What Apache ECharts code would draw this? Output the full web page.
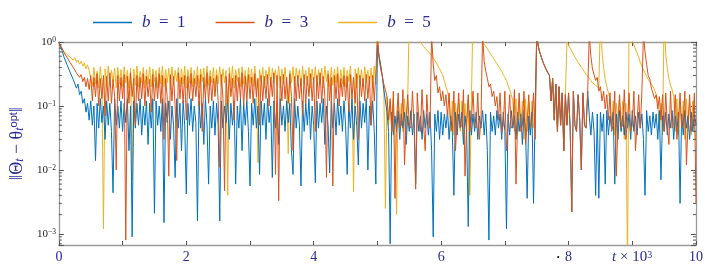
<!DOCTYPE html>
<html><head><meta charset="utf-8">
<script src="https://cdn.jsdelivr.net/npm/echarts@6/dist/echarts.min.js"></script>
<style>html,body{margin:0;padding:0;background:#fff}#c{width:706px;height:270px}</style>
</head><body><div id="c"></div>
<script>
// sample spacing along t (in units of 10^3)
const step = 0.025;
const seriesNames = ['b = 1', 'b = 3', 'b = 5'];
// b = 1 (blue), one row = 0.5 units of t
const b1 = [
1.0,0.82,0.74,0.6,0.58,0.45,0.46,0.34,0.36,0.26,0.27,0.19,0.22,0.15,0.17,0.11,0.13,0.08,0.11,0.06,
0.12,0.05,0.1,0.014,0.11,0.045,0.13,0.055,0.1,0.03,0.12,0.05,0.11,0.04,0.0044,0.13,0.05,0.1,0.045,0.12,
0.04,0.11,0.055,0.13,0.02,0.1,0.0009,0.12,0.045,0.11,0.05,0.13,0.035,0.1,0.05,0.12,0.025,0.11,0.045,0.13,
0.0021,0.12,0.05,0.1,0.04,0.13,0.0015,0.11,0.055,0.12,0.03,0.1,0.05,0.0076,0.13,0.045,0.11,0.02,0.12,0.05,
0.0042,0.11,0.05,0.13,0.04,0.1,0.055,0.0016,0.12,0.045,0.11,0.025,0.13,0.05,0.006,0.1,0.045,0.12,0.035,0.11,
0.05,0.0016,0.12,0.045,0.1,0.055,0.13,0.03,0.11,0.05,0.12,0.006,0.1,0.045,0.13,0.02,0.11,0.05,0.12,0.04,
0.0056,0.11,0.05,0.13,0.045,0.1,0.0085,0.12,0.05,0.11,0.03,0.13,0.055,0.1,0.0076,0.12,0.045,0.11,0.025,0.13,
0.05,0.1,0.04,0.12,0.055,0.11,0.02,0.0085,0.13,0.045,0.1,0.05,0.0056,0.12,0.04,0.11,0.05,0.13,0.03,0.1,
0.05,0.0063,0.12,0.045,0.11,0.055,0.13,0.025,0.1,0.05,0.009,0.12,0.045,0.11,0.035,0.13,0.05,0.1,0.04,0.12,
0.05,0.0085,0.11,0.045,0.13,0.03,0.1,0.05,0.012,0.12,0.045,0.11,0.055,0.13,0.01,0.1,0.05,0.12,0.04,0.006,
0.9,0.6,0.45,0.3,0.18,0.12,0.08,0.04,0.0007,0.08,0.035,0.07,0.04,0.085,0.03,0.075,0.045,0.08,0.025,0.07,
0.04,0.085,0.035,0.075,0.006,0.08,0.04,0.07,0.03,0.085,0.045,0.075,0.035,0.08,0.02,0.0009,0.075,0.04,0.085,0.03,
0.08,0.035,0.075,0.045,0.085,0.03,0.07,0.04,0.004,0.08,0.035,0.075,0.045,0.08,0.025,0.07,0.04,0.0013,0.085,0.035,
0.075,0.04,0.08,0.03,0.07,0.045,0.085,0.035,0.075,0.02,0.0008,0.08,0.04,0.07,0.035,0.085,0.045,0.075,0.03,0.08,
0.04,0.0012,0.075,0.035,0.085,0.045,0.07,0.03,0.08,0.04,0.075,0.025,0.085,0.04,0.0036,0.07,0.035,0.08,0.003,0.075,
1.3,0.85,0.68,0.57,0.48,0.42,0.37,0.33,0.3,0.12,0.27,0.06,0.22,0.04,0.2,0.05,0.16,0.02,0.15,0.05,
0.16,0.045,0.0022,0.17,0.05,0.04,0.15,0.06,0.01,0.16,0.05,0.045,0.17,0.07,0.035,0.08,0.04,0.004,0.075,0.0036,
0.08,0.04,0.075,0.006,0.085,0.035,0.07,0.045,0.08,0.006,0.075,0.03,0.085,0.04,0.07,0.035,0.08,0.045,0.075,0.03,
0.085,0.04,0.07,0.035,0.08,0.045,0.075,0.03,0.004,0.085,0.04,0.07,0.035,0.08,0.045,0.075,0.03,0.085,0.007,0.07,
0.04,0.08,0.035,0.075,0.045,0.085,0.03,0.07,0.04,0.08,0.003,0.075,0.035,0.085,0.045,0.07,0.03,0.08,0.04,0.075,
0.05];
// b = 3 (orange)
const b3 = [
1.0,0.88,0.8,0.7,0.66,0.58,0.56,0.48,0.47,0.4,0.4,0.33,0.35,0.28,0.31,0.24,0.28,0.2,0.27,0.18,
0.3,0.12,0.28,0.14,0.32,0.1,0.27,0.13,0.3,0.07,0.29,0.12,0.33,0.11,0.26,0.14,0.01,0.3,0.12,0.28,
0.13,0.31,0.0008,0.29,0.11,0.33,0.14,0.27,0.05,0.3,0.12,0.28,0.13,0.32,0.1,0.29,0.14,0.26,0.08,0.31,
0.12,0.28,0.13,0.32,0.11,0.3,0.03,0.27,0.14,0.008,0.31,0.12,0.29,0.1,0.014,0.33,0.13,0.28,0.11,0.3,
0.06,0.29,0.13,0.32,0.12,0.27,0.14,0.3,0.1,0.31,0.04,0.28,0.13,0.33,0.11,0.29,0.12,0.27,0.14,0.3,
0.12,0.011,0.31,0.13,0.0047,0.29,0.11,0.32,0.14,0.27,0.06,0.3,0.12,0.28,0.13,0.33,0.1,0.29,0.12,0.31,
0.13,0.28,0.11,0.32,0.14,0.27,0.05,0.3,0.12,0.29,0.13,0.31,0.1,0.28,0.14,0.33,0.0085,0.3,0.0033,0.29,
0.12,0.31,0.13,0.28,0.11,0.32,0.14,0.02,0.29,0.12,0.3,0.13,0.27,0.07,0.31,0.11,0.29,0.14,0.32,0.12,
0.28,0.04,0.3,0.13,0.33,0.11,0.29,0.14,0.0076,0.31,0.12,0.28,0.0056,0.3,0.13,0.32,0.1,0.27,0.14,0.3,
0.12,0.29,0.08,0.31,0.13,0.28,0.11,0.32,0.03,0.3,0.14,0.27,0.12,0.31,0.13,0.29,0.05,0.3,0.12,0.32,
1.3,0.55,0.38,0.3,0.22,0.18,0.14,0.06,0.13,0.04,0.17,0.0036,0.06,0.16,0.045,0.05,0.18,0.012,0.06,0.15,
0.05,0.045,0.17,0.05,0.005,0.16,0.06,0.04,0.18,0.05,0.02,0.15,0.055,0.045,1.3,0.45,0.25,0.3,0.16,0.2,
0.12,0.17,0.1,0.15,0.07,0.16,0.05,0.04,0.17,0.02,0.06,0.16,0.045,0.05,0.18,0.008,0.055,0.15,0.04,0.06,
0.17,0.05,0.045,0.16,0.03,0.06,1.3,0.5,0.35,0.27,0.2,0.22,0.14,0.17,0.1,0.14,0.06,0.16,0.04,0.05,
0.17,0.02,0.055,0.15,0.045,0.05,0.18,0.006,0.06,0.16,0.04,0.05,0.17,0.025,0.055,0.15,0.045,0.06,0.16,0.03,
1.3,0.85,0.68,0.57,0.48,0.42,0.37,0.33,0.3,0.12,0.27,0.06,0.22,0.04,0.2,0.05,0.16,0.02,0.15,0.05,
0.16,0.045,0.0022,0.17,0.05,0.04,0.15,0.06,0.01,0.16,0.05,0.045,0.17,1.3,0.6,0.38,0.4,0.25,0.28,0.17,
0.2,0.12,0.17,0.09,0.15,0.06,0.16,0.04,0.05,0.17,0.008,0.055,0.15,0.045,0.05,0.18,0.03,0.06,0.16,0.04,
0.05,0.17,0.02,0.055,0.15,0.045,0.16,1.3,0.7,0.45,0.3,0.26,0.19,0.2,0.13,0.15,0.09,0.14,0.06,0.15,
0.04,0.16,0.05,0.025,0.17,0.045,0.055,0.15,0.03,0.06,0.16,0.045,0.05,0.17,0.012,0.055,0.15,0.04,0.06,0.16,
0.003];
// b = 5 (yellow)
const b5 = [
0.95,0.82,0.86,0.72,0.76,0.64,0.68,0.58,0.62,0.52,0.57,0.48,0.52,0.45,0.5,0.42,0.47,0.38,0.44,0.36,
0.36,0.2,0.4,0.22,0.35,0.19,0.41,0.23,0.0012,0.38,0.2,0.42,0.21,0.36,0.24,0.39,0.19,0.4,0.22,0.37,
0.2,0.41,0.23,0.36,0.19,0.39,0.007,0.38,0.21,0.42,0.2,0.35,0.23,0.4,0.19,0.37,0.22,0.41,0.2,0.38,
0.24,0.36,0.19,0.4,0.22,0.42,0.2,0.37,0.23,0.39,0.18,0.41,0.21,0.36,0.24,0.4,0.2,0.38,0.22,0.42,
0.19,0.37,0.23,0.4,0.2,0.36,0.22,0.41,0.19,0.38,0.24,0.39,0.2,0.42,0.21,0.36,0.23,0.4,0.19,0.37,
0.22,0.41,0.2,0.38,0.23,0.36,0.004,0.4,0.21,0.42,0.19,0.37,0.24,0.39,0.2,0.41,0.22,0.36,0.19,0.4,
0.23,0.38,0.2,0.42,0.21,0.013,0.37,0.24,0.4,0.19,0.36,0.22,0.41,0.2,0.39,0.23,0.37,0.21,0.42,0.19,
0.38,0.22,0.4,0.2,0.018,0.36,0.23,0.41,0.19,0.39,0.24,0.37,0.2,0.42,0.22,0.36,0.21,0.4,0.19,0.38,
0.23,0.41,0.2,0.37,0.22,0.39,0.19,0.42,0.24,0.36,0.2,0.4,0.21,0.38,0.23,0.41,0.19,0.37,0.22,0.4,
0.2,0.36,0.24,0.42,0.21,0.0046,0.38,0.19,0.4,0.22,0.37,0.2,0.41,0.23,0.36,0.21,0.39,0.19,0.42,0.22,
1.1,0.6,0.42,0.3,0.2,0.0025,0.14,0.05,0.12,0.04,0.13,0.035,0.002,0.12,0.045,0.11,0.04,0.13,0.035,0.12,
3.0,2.5,2.0,1.7,1.45,1.25,1.1,1.0,0.92,0.85,0.79,0.74,0.7,0.67,0.62,0.56,0.52,0.47,0.42,0.38,
0.34,0.3,0.25,0.2,0.17,0.13,0.04,0.12,0.035,0.11,0.045,0.13,0.04,0.12,0.03,0.11,0.045,0.13,0.004,0.12,
3.0,2.2,1.7,1.4,1.2,1.08,1.0,0.92,0.85,0.78,0.71,0.65,0.6,0.55,0.5,0.46,0.42,0.38,0.35,0.31,
0.28,0.25,0.21,0.18,0.15,0.12,0.04,0.13,0.035,0.11,0.045,0.12,0.03,0.13,0.04,0.11,0.035,0.12,0.045,0.11,
1.3,0.85,0.68,0.57,0.48,0.42,0.37,0.33,0.3,0.12,0.27,0.06,0.22,0.04,0.2,0.05,0.16,0.02,0.15,1.0,
0.9,0.8,0.72,0.65,0.58,0.53,0.48,0.44,0.4,0.37,0.34,0.31,0.29,0.27,0.25,0.23,0.22,0.21,0.2,0.19,
2.5,0.7,0.4,0.26,0.2,0.16,0.13,0.04,0.12,0.035,0.11,0.045,0.13,0.04,0.12,0.03,0.11,0.0003,3.0,1.6,
1.05,0.9,0.78,0.67,0.58,0.48,0.42,0.37,0.33,0.29,0.26,0.24,0.22,0.2,0.18,0.15,0.12,0.04,0.11,0.035,
2.5,0.65,0.38,0.27,0.21,0.18,0.14,0.04,0.13,0.035,0.11,0.045,0.12,0.03,0.13,0.04,0.11,0.035,0.12,0.045,
0.03];
const xLabelValues = [0, 2, 4, 6, 8, 10];
const minorMantissas = [2, 3, 4, 5, 6, 7, 8, 9];
const minorExps = [-4, -3, -2, -1];
const yMin = 0.00067, yMax = 1;
const colors = {'b = 1': '#0072BD', 'b = 3': '#D95319', 'b = 5': '#EDB120'};
const navy = '#2a2a96';
const serif = '"Liberation Serif", "DejaVu Serif", serif';

const minorVals = [];
minorExps.forEach(e => minorMantissas.forEach(m => {
  const v = m * Math.pow(10, e);
  if (v > yMin && v < yMax) minorVals.push([0, v]);
}));

function toPairs(arr) { return arr.map((v, i) => [+(i * step).toFixed(3), v]); }
function lineSeries(name, arr) {
  return {
    name, type: 'line', data: toPairs(arr), showSymbol: false, symbol: 'none',
    lineStyle: {width: 1, color: colors[name]}, itemStyle: {color: colors[name]},
    animation: false, clip: true, silent: true, sampling: null
  };
}
function supExp(v) {
  const l = Math.log10(v), r = Math.round(l);
  if (Math.abs(l - r) > 1e-6) return '';
  return '{b|10}{e|' + (r < 0 ? '\u2212' + (-r) : r) + '}';
}

const chart = echarts.init(document.getElementById('c'), null, {renderer: 'canvas'});
chart.setOption({
  animation: false,
  grid: {left: 53, right: 8.5, top: 42, bottom: 25, containLabel: false},
  legend: {
    data: seriesNames, left: 93, top: 14, padding: 0, icon: 'rect', itemWidth: 39, itemHeight: 1.3, itemGap: 30,
    formatter: n => '{i|b}{t|\u2002=\u2002' + n.slice(4) + '}',
    textStyle: {
      padding: [0, 0, 0, 5],
      rich: {
        i: {fontFamily: serif, fontStyle: 'italic', fontWeight: 'normal', fontSize: 17, lineHeight: 20, color: navy},
        t: {fontFamily: serif, fontWeight: 'normal', fontSize: 17, lineHeight: 20, color: navy}
      }
    }
  },
  title: [
    {text: '{i|t}{t| \u00d7 10}{e|3}', left: 612, top: 250, padding: 0,
     textStyle: {fontWeight: 'normal', rich: {
       i: {fontFamily: serif, fontStyle: 'italic', fontWeight: 'normal', fontSize: 15, color: navy},
       t: {fontFamily: serif, fontWeight: 'normal', fontSize: 15, color: navy},
       e: {fontFamily: serif, fontWeight: 'normal', fontSize: 10, color: navy, verticalAlign: 'top'}}}},
    {text: '\u2022', left: 557, top: 254, padding: 0, textStyle: {fontSize: 7, color: '#000', fontWeight: 'normal'}}
  ],
  xAxis: [{
    type: 'value', min: 0, max: 10, interval: 1,
    axisLine: {show: true, onZero: false, lineStyle: {color: '#9a9a9a', width: 1.3}},
    axisTick: {inside: true, length: 4, lineStyle: {color: '#555'}},
    axisLabel: {formatter: v => xLabelValues.includes(v) ? String(v) : '', fontFamily: serif, fontSize: 14, color: navy, margin: 5},
    splitLine: {show: false}
  }, {
    type: 'value', min: 0, max: 10, interval: 1, position: 'top',
    axisLine: {show: true, onZero: false, lineStyle: {color: '#9a9a9a', width: 1.3}},
    axisTick: {inside: true, length: 4, lineStyle: {color: '#555'}},
    axisLabel: {show: false}, splitLine: {show: false}
  }],
  yAxis: [{
    type: 'log', logBase: 10, min: yMin, max: yMax,
    axisLine: {show: true, onZero: false, lineStyle: {color: '#9a9a9a', width: 1.3}},
    axisTick: {inside: true, length: 5, lineStyle: {color: '#555'}},
    axisLabel: {formatter: supExp, margin: 3, rich: {
      b: {fontFamily: serif, fontSize: 11, color: '#222'},
      e: {fontFamily: serif, fontSize: 7.5, color: '#222', verticalAlign: 'top'}}},
    splitLine: {show: false},
    name: '{a|\u2016\u0398}{s|t}{a| \u2212 \u03b8}{s|t}{o|opt}{a|\u2016}',
    nameLocation: 'middle', nameGap: 29, nameRotate: 90,
    nameTextStyle: {rich: {
      a: {fontFamily: serif, fontSize: 18, color: navy},
      s: {fontFamily: serif, fontStyle: 'italic', fontSize: 12, color: navy, verticalAlign: 'bottom'},
      o: {fontFamily: '"Liberation Sans", sans-serif', fontSize: 11, color: navy, verticalAlign: 'top'}}}
  }, {
    type: 'log', logBase: 10, min: yMin, max: yMax, position: 'right',
    axisLine: {show: true, onZero: false, lineStyle: {color: '#9a9a9a', width: 1.3}},
    axisTick: {inside: true, length: 5, lineStyle: {color: '#555'}},
    axisLabel: {show: false}, splitLine: {show: false}
  }],
  series: [
    lineSeries('b = 5', b5),
    lineSeries('b = 1', b1),
    lineSeries('b = 3', b3),
    {
      type: 'custom', name: 'minorTicks', silent: true, z: 10, clip: false,
      data: minorVals,
      renderItem: (params, api) => {
        const v = api.value(1);
        const pl = api.coord([0, v]);
        const pr = api.coord([10, v]);
        return {type: 'group', children: [
          {type: 'line', shape: {x1: pl[0], y1: pl[1], x2: pl[0] + 3, y2: pl[1]}, style: {stroke: '#555', lineWidth: 1}},
          {type: 'line', shape: {x1: pr[0] - 3, y1: pr[1], x2: pr[0], y2: pr[1]}, style: {stroke: '#555', lineWidth: 1}}
        ]};
      }
    }
  ]
});
</script></body></html>
